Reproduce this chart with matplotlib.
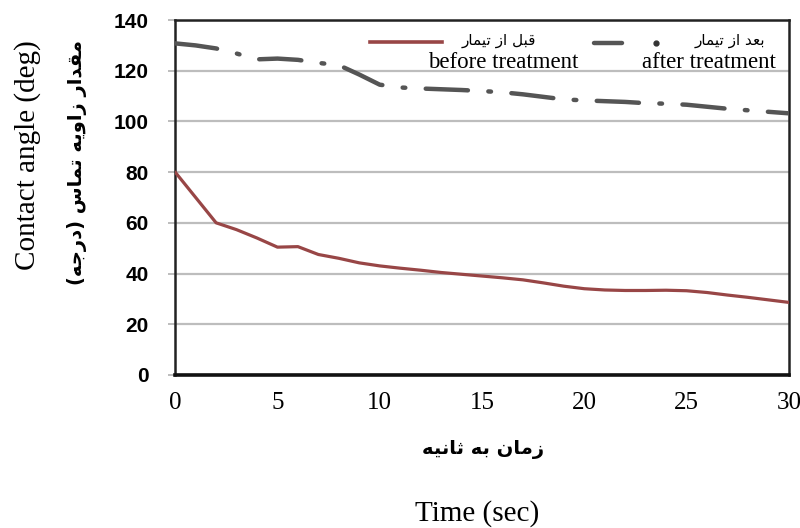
import numpy as np
import matplotlib
matplotlib.use("Agg")
import matplotlib.pyplot as plt
from matplotlib import font_manager

#%% data

time_s = [0, 1, 2, 3, 4, 5, 6, 7, 8, 9, 10, 11, 12, 13, 14, 15,
          16, 17, 18, 19, 20, 21, 22, 23, 24, 25, 26, 27, 28, 29, 30]

before_treatment = [80, 70, 60, 57.3, 54, 50.4, 50.6, 47.5, 46, 44.2, 43, 42.1, 41.3, 40.4, 39.7, 39,
                    38.3, 37.5, 36.3, 35, 34, 33.5, 33.3, 33.3, 33.4, 33.2, 32.5, 31.5, 30.6, 29.6, 28.6]

after_treatment = [130.8, 130, 128.8, 126.8, 124.5, 124.8, 124.3, 123.1, 122.2, 118.5, 114.5, 113.4, 113, 112.7, 112.4, 112,
                   111.5, 110.7, 109.7, 108.7, 108.3, 108, 107.7, 107.2, 107, 106.6, 105.8, 105, 104.4, 103.8, 103.2]

x_ticks = [0, 5, 10, 15, 20, 25, 30]
y_ticks = [0, 20, 40, 60, 80, 100, 120, 140]

label_before_fa = "قبل از تیمار"
label_after_fa = "بعد از تیمار"
label_before_en = "before treatment"
label_after_en = "after treatment"
ylabel_en = "Contact angle (deg)"
ylabel_fa = "مقدار زاویه تماس (درجه)"
xlabel_fa = "زمان به ثانیه"
xlabel_en = "Time (sec)"

#%% tiny persian shaper (matplotlib 3.10 has no arabic shaping / bidi)

# iso, final, initial, medial
FORMS = {
    'ا': ('\uFE8D', '\uFE8E', None, None),
    'ب': ('\uFE8F', '\uFE90', '\uFE91', '\uFE92'),
    'ت': ('\uFE95', '\uFE96', '\uFE97', '\uFE98'),
    'ث': ('\uFE99', '\uFE9A', '\uFE9B', '\uFE9C'),
    'ج': ('\uFE9D', '\uFE9E', '\uFE9F', '\uFEA0'),
    'د': ('\uFEA9', '\uFEAA', None, None),
    'ر': ('\uFEAD', '\uFEAE', None, None),
    'ز': ('\uFEAF', '\uFEB0', None, None),
    'س': ('\uFEB1', '\uFEB2', '\uFEB3', '\uFEB4'),
    'ع': ('\uFEC9', '\uFECA', '\uFECB', '\uFECC'),
    'ق': ('\uFED5', '\uFED6', '\uFED7', '\uFED8'),
    'ل': ('\uFEDD', '\uFEDE', '\uFEDF', '\uFEE0'),
    'م': ('\uFEE1', '\uFEE2', '\uFEE3', '\uFEE4'),
    'ن': ('\uFEE5', '\uFEE6', '\uFEE7', '\uFEE8'),
    'ه': ('\uFEE9', '\uFEEA', '\uFEEB', '\uFEEC'),
    'و': ('\uFEED', '\uFEEE', None, None),
    'ی': ('\uFEEF', '\uFEF0', '\uFEF3', '\uFEF4'),
}


def fa(s):
    out = []
    for i, ch in enumerate(s):
        if ch not in FORMS:
            out.append(ch)
            continue
        iso, fin, ini, med = FORMS[ch]
        prev = s[i - 1] if i > 0 else ''
        nxt = s[i + 1] if i + 1 < len(s) else ''
        join_prev = prev in FORMS and FORMS[prev][2] is not None
        join_next = ini is not None and nxt in FORMS
        if join_prev and join_next:
            out.append(med)
        elif join_prev:
            out.append(fin)
        elif join_next:
            out.append(ini)
        else:
            out.append(iso)
    return ''.join(out)[::-1].translate(str.maketrans('()', ')('))


#%% fonts

names = {f.name for f in font_manager.fontManager.ttflist}
serif = "Liberation Serif"
tick_font = "Liberation Sans Narrow" if "Liberation Sans Narrow" in names else "Liberation Sans"
fa_font = "DejaVu Sans"

#%% plot

fig = plt.figure(figsize=(8, 5.28), dpi=100)
ax = fig.add_axes([0.219, 0.290, 0.767, 0.672])

ax.plot(time_s, before_treatment, color="#984646", lw=2.3, solid_capstyle="round", zorder=3)
ax.plot(time_s, after_treatment, color="#555555", lw=3.2, dashes=(9.5, 4.6, 0.6, 4.6),
        dash_capstyle="round", zorder=3)

ax.set(xlim=[0, 30], ylim=[0, 140])
ax.set_xticks(x_ticks)
ax.set_yticks(y_ticks)
ax.yaxis.grid(True, color="#bdbdbd", lw=1.6)
ax.set_axisbelow(True)

for side in ["left", "top", "right"]:
    ax.spines[side].set_linewidth(1.8)
    ax.spines[side].set_color("#222222")
ax.spines["bottom"].set_linewidth(2.6)
ax.spines["bottom"].set_color("#111111")

ax.tick_params(axis="x", length=0, pad=12, labelsize=18)
ax.tick_params(axis="y", length=5, width=1.4, color="#bdbdbd", pad=14, labelsize=15)
for t in ax.get_xticklabels():
    t.set_family(serif)
for t in ax.get_yticklabels():
    t.set_family(tick_font)
    t.set_fontweight("bold")

# legend drawn by hand so the persian line sits next to the key like in the original
ax.plot([0.318, 0.435], [0.939, 0.939], transform=ax.transAxes, color="#984646", lw=2.6, clip_on=False)
ax.text(0.466, 0.941, fa(label_before_fa), transform=ax.transAxes, family=fa_font,
        fontsize=11, ha="left", va="center")
ax.text(0.412, 0.879, label_before_en, transform=ax.transAxes, family=serif,
        fontsize=16.5, ha="left", va="center")
ax.plot([0.683, 0.728], [0.934, 0.934], transform=ax.transAxes, color="#555555", lw=3.2,
        solid_capstyle="round")
ax.plot([0.784], [0.934], transform=ax.transAxes, marker="o", ms=3.5, color="#333333")
ax.text(0.846, 0.941, fa(label_after_fa), transform=ax.transAxes, family=fa_font,
        fontsize=11, ha="left", va="center", clip_on=True)
ax.text(0.761, 0.879, label_after_en, transform=ax.transAxes, family=serif,
        fontsize=16.5, ha="left", va="center")

fig.text(0.034, 0.706, ylabel_en, rotation=90, family=serif, fontsize=21, ha="center", va="center")
fig.text(0.096, 0.693, fa(ylabel_fa), rotation=90, family=fa_font, fontsize=14,
         fontweight="bold", ha="center", va="center")
fig.text(0.604, 0.148, fa(xlabel_fa), family=fa_font, fontsize=14, fontweight="bold",
         ha="center", va="center")
fig.text(0.596, 0.028, xlabel_en, family=serif, fontsize=21, ha="center", va="center")

plt.savefig("out.png", dpi=100)
plt.close()
